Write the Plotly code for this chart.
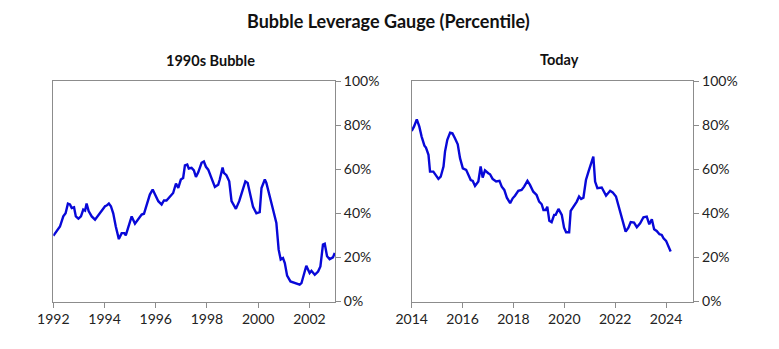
import plotly.graph_objects as go

bubble_years = [1992.00, 1992.26, 1992.39, 1992.48, 1992.57, 1992.65, 1992.72, 1992.81, 1992.88, 1992.98,
                1993.08, 1993.17, 1993.24, 1993.30, 1993.38, 1993.50, 1993.63, 1993.76, 1993.89, 1994.02,
                1994.08, 1994.17, 1994.25, 1994.34, 1994.44, 1994.56, 1994.67, 1994.77, 1994.83, 1994.93,
                1995.06, 1995.19, 1995.32, 1995.45, 1995.54, 1995.64, 1995.77, 1995.88, 1995.97, 1996.10,
                1996.23, 1996.32, 1996.42, 1996.55, 1996.68, 1996.79, 1996.88, 1996.98, 1997.07, 1997.14,
                1997.23, 1997.29, 1997.40, 1997.49, 1997.57, 1997.66, 1997.79, 1997.88, 1997.96, 1998.05,
                1998.18, 1998.31, 1998.44, 1998.50, 1998.61, 1998.66, 1998.76, 1998.87, 1998.96, 1999.13,
                1999.26, 1999.37, 1999.50, 1999.59, 1999.67, 1999.80, 1999.93, 2000.06, 2000.13, 2000.26,
                2000.32, 2000.45, 2000.58, 2000.71, 2000.80, 2000.88, 2000.97, 2001.04, 2001.13, 2001.26,
                2001.39, 2001.52, 2001.62, 2001.69, 2001.82, 2001.88, 2001.95, 2002.01, 2002.08, 2002.21,
                2002.34, 2002.43, 2002.53, 2002.60, 2002.69, 2002.79, 2002.92, 2002.99]
bubble_pct = [29.8, 34.0, 38.6, 40, 44.4, 44, 42.4, 42.7, 38.6, 37.6,
              38.6, 41.7, 41.2, 44.4, 41, 38.6, 37.1, 39, 41, 43.2,
              43.5, 44.4, 43.2, 40, 34, 28.3, 31, 31, 30, 33.3,
              38.6, 35.3, 37.1, 39.4, 39.8, 43.2, 48.5, 50.8, 48.5, 45.5,
              44, 45.8, 45.8, 47.7, 49.2, 53.5, 51.5, 55.3, 56, 61.7,
              62.1, 60.3, 60.6, 59.5, 56.5, 58.6, 62.9, 63.5, 61.1, 59.8,
              56, 52, 53, 55.3, 60.8, 58.3, 57.3, 54.5, 45.5, 42,
              45.5, 49.7, 54.5, 53.8, 49.2, 42.9, 40, 40.5, 51.5, 55.3,
              53.8, 47, 41.7, 35.6, 23.5, 19, 19.7, 17.4, 11.7, 9.1,
              8.6, 8.3, 7.6, 8.3, 14.4, 16.2, 14.4, 12.9, 13.9, 12.1,
              13.6, 15.9, 25.8, 26.2, 20.5, 19.2, 20, 22]

today_years = [2014.00, 2014.09, 2014.20, 2014.30, 2014.39, 2014.50, 2014.56, 2014.66, 2014.72, 2014.85,
               2014.94, 2015.05, 2015.14, 2015.25, 2015.31, 2015.40, 2015.51, 2015.60, 2015.70, 2015.81,
               2015.90, 2016.01, 2016.14, 2016.23, 2016.32, 2016.40, 2016.49, 2016.62, 2016.71, 2016.79,
               2016.88, 2017.01, 2017.08, 2017.18, 2017.32, 2017.45, 2017.54, 2017.64, 2017.74, 2017.87,
               2017.97, 2018.06, 2018.19, 2018.32, 2018.42, 2018.55, 2018.65, 2018.78, 2018.91, 2019.01,
               2019.11, 2019.18, 2019.27, 2019.33, 2019.41, 2019.50, 2019.60, 2019.66, 2019.77, 2019.90,
               2019.99, 2020.07, 2020.19, 2020.25, 2020.36, 2020.49, 2020.58, 2020.66, 2020.75, 2020.85,
               2020.95, 2021.05, 2021.14, 2021.21, 2021.30, 2021.47, 2021.64, 2021.80, 2021.90, 2022.03,
               2022.19, 2022.28, 2022.41, 2022.52, 2022.61, 2022.74, 2022.85, 2022.98, 2023.11, 2023.24,
               2023.34, 2023.44, 2023.53, 2023.63, 2023.74, 2023.83, 2023.90, 2024.00, 2024.09, 2024.18]
today_pct = [77.3, 79.3, 82.6, 79.3, 74.8, 70.7, 69.8, 66.5, 58.9, 58.9,
             57.4, 55.6, 56.6, 61.2, 68, 73.3, 76.6, 76.3, 74, 71.3,
             65, 60.4, 59.7, 57.4, 55.1, 54.7, 52.4, 54.4, 61.2, 56.2,
             59.5, 58.2, 57.7, 55.6, 54.4, 54.7, 52.1, 50.6, 47.1, 44.6,
             46.8, 48, 50.2, 50.6, 52.1, 54.7, 52.9, 49.8, 48.3, 45.3,
             44.1, 41.5, 41.5, 43, 36.6, 36, 39.3, 39.3, 42, 39.3,
             33.5, 31.4, 31.4, 41.1, 43, 45.3, 47.6, 46.5, 47.1, 55.1,
             58.9, 62.7, 65.7, 54.4, 51.4, 51.7, 48, 50.2, 49.5, 47.6,
             40.8, 37.8, 31.7, 33.5, 36, 35.8, 33.7, 35.5, 38.2, 38.5,
             35, 37.3, 32.8, 32, 30.5, 30.2, 28.7, 27.5, 25, 22.7]

title_text = "Bubble Leverage Gauge (Percentile)"
left_title = "1990s Bubble"
right_title = "Today"
y_ticks = [0, 20, 40, 60, 80, 100]
y_ticklabels = [f"{v}%" for v in y_ticks]

W, H = 779, 349
FONT = "Lato"
LINE_COLOR = "#0808d8"
AX_COLOR = "#8c8c8c"

fig = go.Figure()
fig.add_trace(go.Scatter(x=bubble_years, y=bubble_pct, mode="lines",
                         line=dict(color=LINE_COLOR, width=2.4), xaxis="x", yaxis="y",
                         showlegend=False))
fig.add_trace(go.Scatter(x=today_years, y=today_pct, mode="lines",
                         line=dict(color=LINE_COLOR, width=2.4), xaxis="x2", yaxis="y2",
                         showlegend=False))

ydom = [1 - 301.5 / H, 1 - 81 / H]
common_x = dict(showgrid=False, zeroline=False, showline=True, linecolor=AX_COLOR, linewidth=1,
                mirror=True, ticks="outside", ticklen=5, tickcolor=AX_COLOR, dtick=2,
                tickformat="d", automargin=False,
                tickfont=dict(family=FONT, size=14, color="#222"))
common_y = dict(showgrid=False, zeroline=False, showline=True, linecolor=AX_COLOR, linewidth=1,
                mirror=True, ticks="outside", ticklen=5, tickcolor=AX_COLOR, side="right",
                range=[0, 100], tickvals=y_ticks, ticktext=y_ticklabels, automargin=False,
                tickfont=dict(family=FONT, size=14, color="#222"), domain=ydom)

fig.update_layout(
    template="none",
    width=W, height=H, margin=dict(l=0, r=0, t=0, b=0, pad=0, autoexpand=False),
    paper_bgcolor="white", plot_bgcolor="white",
    xaxis=dict(common_x, domain=[53.3 / W, 335 / W], range=[1992, 2003], tick0=1992),
    yaxis=dict(common_y, anchor="x"),
    xaxis2=dict(common_x, domain=[411.7 / W, 693.3 / W], range=[2014, 2025.07], tick0=2014),
    yaxis2=dict(common_y, anchor="x2"),
    annotations=[
        dict(text=f"<b>{title_text}</b>", x=388 / W, y=1 - 21 / H, xref="paper", yref="paper",
             showarrow=False, xanchor="center", yanchor="middle",
             font=dict(family=FONT, size=18, color="#111")),
        dict(text=f"<b>{left_title}</b>", x=210 / W, y=1 - 61 / H, xref="paper", yref="paper",
             showarrow=False, xanchor="center", yanchor="middle",
             font=dict(family=FONT, size=14.5, color="#111")),
        dict(text=f"<b>{right_title}</b>", x=559 / W, y=1 - 59 / H, xref="paper", yref="paper",
             showarrow=False, xanchor="center", yanchor="middle",
             font=dict(family=FONT, size=14.5, color="#111")),
    ],
)

fig.write_html("out.html")
